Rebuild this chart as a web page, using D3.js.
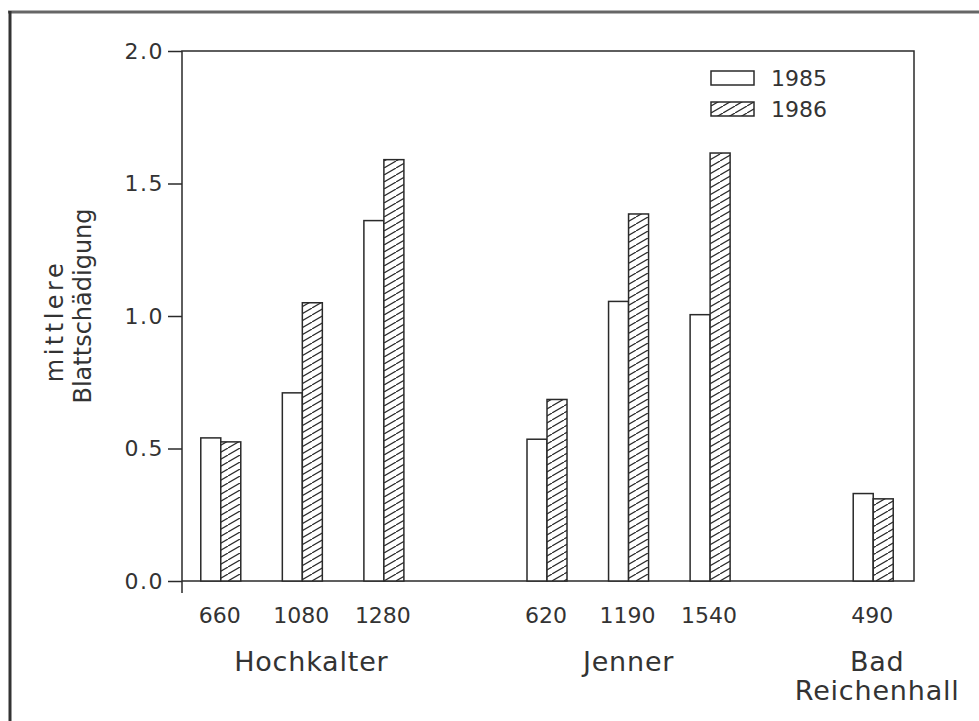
<!DOCTYPE html>
<html>
<head>
<meta charset="utf-8">
<script src="https://cdnjs.cloudflare.com/ajax/libs/d3/7.8.5/d3.min.js"></script>
<style>
  body { margin: 0; background: #fff; }
  svg text { font-family: "DejaVu Sans", sans-serif; fill: #333; }
</style>
</head>
<body>
<div id="chart"></div>
<script>
// data
const sites = ["Hochkalter", "Jenner", "Bad Reichenhall"];
const elevations = [["660", "1080", "1280"], ["620", "1190", "1540"], ["490"]];
const years = ["1985", "1986"];
const damage1985 = [0.54, 0.71, 1.36, 0.535, 1.055, 1.005, 0.33];
const damage1986 = [0.525, 1.05, 1.59, 0.685, 1.385, 1.615, 0.31];
const yTicks = [0, 0.5, 1.0, 1.5, 2.0];

const W = 979, H = 721;
const plot = { left: 182, right: 914, top: 51, bottom: 581 };
const ink = "#2a2a2a";

const svg = d3.select("#chart").append("svg")
  .attr("width", W).attr("height", H);

// hatch for 1986
const defs = svg.append("defs");
const pat = defs.append("pattern")
  .attr("id", "hatch")
  .attr("patternUnits", "userSpaceOnUse")
  .attr("width", 12).attr("height", 7);
pat.append("rect").attr("width", 12).attr("height", 7).attr("fill", "#fff");
pat.append("path")
  .attr("d", "M0,7L12,0M-12,7L0,0M12,14L24,7")
  .attr("stroke", ink).attr("stroke-width", 1.2);

// outer frame (left + top of the scanned page)
svg.append("line").attr("x1", 8).attr("x2", W).attr("y1", 12).attr("y2", 12)
  .attr("stroke", "#666").attr("stroke-width", 3);
svg.append("line").attr("x1", 10).attr("x2", 10).attr("y1", 11).attr("y2", H)
  .attr("stroke", "#333").attr("stroke-width", 3);

// one slot per elevation plus a blank slot between sites
const slots = [];
const rows = [];
elevations.forEach((els, g) => {
  if (g > 0) slots.push("gap" + g);
  els.forEach(e => { slots.push(e); rows.push({ site: g, elev: e }); });
});
rows.forEach((r, i) => { r.v1985 = damage1985[i]; r.v1986 = damage1986[i]; });

const x = d3.scaleBand().domain(slots).range([180, plot.right]);
const y = d3.scaleLinear().domain([0, 2]).range([plot.bottom, plot.top]);
const barW = 20;

// plot box
svg.append("rect")
  .attr("x", plot.left).attr("y", plot.top)
  .attr("width", plot.right - plot.left).attr("height", plot.bottom - plot.top)
  .attr("fill", "none").attr("stroke", ink).attr("stroke-width", 1.5);
svg.append("line").attr("x1", plot.left).attr("x2", plot.left)
  .attr("y1", plot.bottom).attr("y2", plot.bottom + 12)
  .attr("stroke", ink).attr("stroke-width", 1.5);

// y axis
const yAxis = svg.append("g")
  .attr("transform", `translate(${plot.left},0)`)
  .call(d3.axisLeft(y).tickValues(yTicks).tickFormat(d3.format(".1f")).tickSize(14).tickPadding(4));
yAxis.select(".domain").remove();
yAxis.selectAll("line").attr("stroke", ink).attr("stroke-width", 1.5);
yAxis.selectAll("text").attr("font-size", 22).style("fill", "#333")
  .style("letter-spacing", "1.5px")
  .attr("font-family", "DejaVu Sans");

// bars
const cx = d => x(d.elev) + x.bandwidth() / 2;
svg.selectAll(".b85").data(rows).join("rect")
  .attr("x", d => cx(d) - barW).attr("width", barW)
  .attr("y", d => y(d.v1985)).attr("height", d => y(0) - y(d.v1985))
  .attr("fill", "#fff").attr("stroke", ink).attr("stroke-width", 1.5);
svg.selectAll(".b86").data(rows).join("rect")
  .attr("x", d => cx(d)).attr("width", barW)
  .attr("y", d => y(d.v1986)).attr("height", d => y(0) - y(d.v1986))
  .attr("fill", "url(#hatch)").attr("stroke", ink).attr("stroke-width", 1.5);

// elevation labels
svg.selectAll(".elev").data(rows).join("text")
  .attr("x", d => cx(d) - 1).attr("y", 623)
  .attr("text-anchor", "middle").attr("font-size", 22)
  .text(d => d.elev);

// site labels
const siteShift = [9, 0, 4];
sites.forEach((s, g) => {
  const els = elevations[g];
  const mid = (x(els[0]) + x(els[els.length - 1]) + x.bandwidth()) / 2;
  const words = s === "Bad Reichenhall" ? ["Bad", "Reichenhall"] : [s];
  words.forEach((w, k) => {
    svg.append("text")
      .attr("x", mid + siteShift[g]).attr("y", 671 + k * 29)
      .attr("text-anchor", "middle").attr("font-size", 27)
      .style("letter-spacing", "0.8px")
      .text(w);
  });
});

// y title
const yt = svg.append("g").attr("transform", "rotate(-90)");
yt.append("text").attr("x", -321).attr("y", 63)
  .attr("text-anchor", "middle").attr("font-size", 24)
  .style("letter-spacing", "3.5px").text("mittlere");
yt.append("text").attr("x", -306).attr("y", 91)
  .attr("text-anchor", "middle").attr("font-size", 24).text("Blattschädigung");

// legend
const leg = svg.append("g").attr("transform", "translate(711,71)");
years.forEach((yr, i) => {
  leg.append("rect")
    .attr("x", 0).attr("y", i * 31).attr("width", 43).attr("height", 14)
    .attr("fill", i ? "url(#hatch)" : "#fff")
    .attr("stroke", ink).attr("stroke-width", 1.5);
  leg.append("text")
    .attr("x", 60).attr("y", i * 31 + 15)
    .attr("font-size", 22).text(yr);
});
</script>
</body>
</html>
